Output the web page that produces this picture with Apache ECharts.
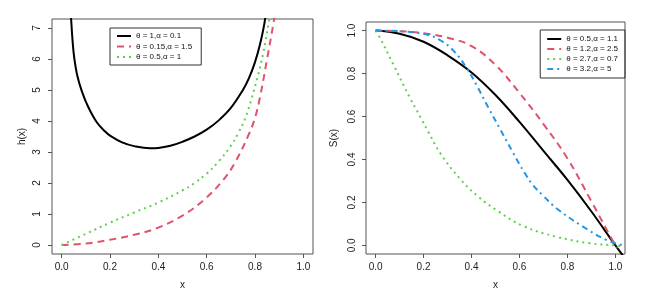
<!DOCTYPE html>
<html>
<head>
<meta charset="utf-8">
<script src="https://cdn.jsdelivr.net/npm/echarts@6/dist/echarts.min.js"></script>
<style>
html,body{margin:0;padding:0;background:#fff;}
#c{width:646px;height:293px;}
</style>
</head>
<body>
<div id="c"></div>
<script>
// ---- Data ----
const xTicks = [0, 0.2, 0.4, 0.6, 0.8, 1.0];
const hTicks = [0, 1, 2, 3, 4, 5, 6, 7];
const sTicks = [0, 0.2, 0.4, 0.6, 0.8, 1.0];

const hNames = ["θ = 1,α = 0.1", "θ = 0.15,α = 1.5", "θ = 0.5,α = 1"];
const sNames = ["θ = 0.5,α = 1.1", "θ = 1.2,α = 2.5", "θ = 2.7,α = 0.7", "θ = 3.2,α = 5"];

// h(x), left panel
const hBlack = [[0.034,7.9],[0.039,7.3],[0.045,6.6],[0.052,6.04],[0.065,5.45],[0.084,4.95],[0.11,4.45],[0.146,3.95],[0.18,3.66],[0.2,3.53],[0.25,3.31],[0.3,3.19],[0.366,3.12],[0.4,3.13],[0.45,3.2],[0.5,3.33],[0.55,3.5],[0.6,3.72],[0.65,4.02],[0.7,4.42],[0.75,5.0],[0.775,5.38],[0.8,5.9],[0.82,6.45],[0.84,7.2],[0.848,7.8]];
const hRed = [[0,0],[0.1,0.05],[0.2,0.17],[0.3,0.33],[0.4,0.56],[0.5,0.95],[0.586,1.44],[0.668,2.09],[0.72,2.7],[0.776,3.6],[0.8,4.1],[0.82,4.74],[0.85,6.0],[0.877,7.18],[0.882,7.45]];
const hGreen = [[0,0],[0.1,0.36],[0.2,0.72],[0.3,1.05],[0.4,1.37],[0.5,1.76],[0.55,2.0],[0.6,2.3],[0.65,2.7],[0.7,3.2],[0.73,3.6],[0.76,4.1],[0.785,4.7],[0.81,5.4],[0.833,6.15],[0.858,7.23],[0.862,7.4]];

// S(x), right panel
const sBlack = [[0,1.0],[0.1,0.985],[0.2,0.948],[0.3,0.885],[0.4,0.805],[0.5,0.7],[0.6,0.575],[0.7,0.44],[0.8,0.305],[0.9,0.158],[1.0,0.0],[1.04,-0.06]];
const sRed = [[0,1],[0.1,0.997],[0.2,0.988],[0.3,0.967],[0.4,0.928],[0.5,0.84],[0.6,0.71],[0.7,0.565],[0.8,0.405],[0.9,0.205],[1.0,0.0],[1.01,-0.01]];
const sGreen = [[0,1],[0.02,0.963],[0.075,0.84],[0.144,0.685],[0.193,0.585],[0.22,0.528],[0.269,0.43],[0.352,0.31],[0.43,0.225],[0.51,0.16],[0.616,0.09],[0.755,0.04],[0.893,0.01],[1.0,0.0],[1.04,-0.005]];
const sBlue = [[0,1],[0.1,0.997],[0.2,0.985],[0.27,0.955],[0.33,0.9],[0.38,0.825],[0.42,0.748],[0.47,0.642],[0.52,0.54],[0.574,0.43],[0.62,0.34],[0.657,0.28],[0.7,0.23],[0.755,0.172],[0.865,0.087],[0.963,0.025],[1.03,0.0],[1.04,-0.002]];

const COL = {black:'#000000', red:'#DF536B', green:'#61D04F', blue:'#2297E6'};
const FONT = 'Liberation Sans, Arial, sans-serif';
const TXT = '#222';
const BOX = '#555';

function xAxisOpt(gi){
  return {
    type:'value', gridIndex:gi, min:-0.04, max:1.04, position:'bottom',
    name:'x', nameLocation:'middle', nameGap:26,
    nameTextStyle:{fontFamily:FONT, fontSize:10, color:TXT},
    axisLine:{show:false, onZero:false}, splitLine:{show:false},
    axisTick:{show:true, length:4, customValues:xTicks, lineStyle:{color:BOX}},
    axisLabel:{customValues:xTicks, margin:8, fontFamily:FONT, fontSize:10, color:TXT,
      formatter:v=>v.toFixed(1)}
  };
}
function yAxisOpt(gi, min, max, ticks, name, fmt, gap, margin){
  return {
    type:'value', gridIndex:gi, min:min, max:max, position:'left',
    name:name, nameLocation:'middle', nameGap:gap,
    nameTextStyle:{fontFamily:FONT, fontSize:10, color:TXT},
    axisLine:{show:false, onZero:false}, splitLine:{show:false},
    axisTick:{show:true, length:4, customValues:ticks, lineStyle:{color:BOX}},
    axisLabel:{customValues:ticks, rotate:90, margin:margin, fontFamily:FONT, fontSize:10, color:TXT,
      formatter:fmt}
  };
}
function line(name, data, color, type, xi){
  return {
    type:'line', name:name, data:data, xAxisIndex:xi, yAxisIndex:xi,
    symbol:'none', smooth:0.4, clip:true, animation:false,
    lineStyle:{color:color, width:2, type:type},
    itemStyle:{color:color}
  };
}
const legendCommon = {
  orient:'vertical', itemWidth:14, itemHeight:8,
  borderColor:'#333', borderWidth:1, borderRadius:0,
  itemStyle:{opacity:0},
  textStyle:{fontFamily:FONT, fontSize:8, color:'#111'}
};

const chart = echarts.init(document.getElementById('c'), null, {renderer:'canvas'});
chart.setOption({
  backgroundColor:'#fff',
  animation:false,
  grid:[
    {left:52, right:333, top:19, bottom:39, show:true, borderColor:BOX, borderWidth:1, backgroundColor:'transparent', containLabel:false, outerBoundsMode:'none'},
    {left:366, right:21, top:22, bottom:39, show:true, borderColor:BOX, borderWidth:1, backgroundColor:'transparent', containLabel:false, outerBoundsMode:'none'}
  ],
  xAxis:[xAxisOpt(0), xAxisOpt(1)],
  yAxis:[
    yAxisOpt(0, -0.29, 7.29, hTicks, 'h(x)', v=>String(v), 25, 10),
    yAxisOpt(1, -0.04, 1.04, sTicks, 'S(x)', v=>v.toFixed(1), 27, 9)
  ],
  legend:[
    Object.assign({}, legendCommon, {data:hNames, left:110, top:28, itemGap:2.5, padding:[4,9,4,6]}),
    Object.assign({}, legendCommon, {data:sNames, right:21, top:30, itemGap:2, padding:[5,7,5,6]})
  ],
  series:[
    line(hNames[0], hBlack, COL.black, 'solid', 0),
    line(hNames[1], hRed, COL.red, [7,5], 0),
    line(hNames[2], hGreen, COL.green, [2,4], 0),
    line(sNames[0], sBlack, COL.black, 'solid', 1),
    line(sNames[1], sRed, COL.red, [7,5], 1),
    line(sNames[2], sGreen, COL.green, [2,4], 1),
    line(sNames[3], sBlue, COL.blue, [6,4,2,4], 1)
  ]
});
</script>
</body>
</html>
